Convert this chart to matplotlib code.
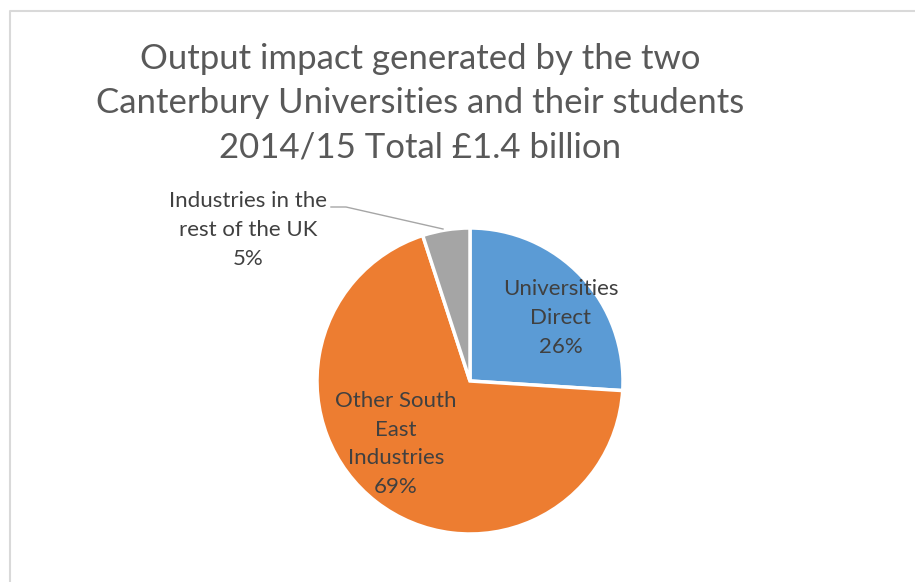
import matplotlib
matplotlib.use("Agg")
import matplotlib.pyplot as plt

# slice data, clockwise from 12 o'clock
categories = ["Universities\nDirect", "Other South\nEast\nIndustries", "Industries in the\nrest of the UK"]
shares = [26, 69, 5]
colors = ["#5b9bd5", "#ed7d31", "#a5a5a5"]

title = "Output impact generated by the two\nCanterbury Universities and their students\n2014/15 Total £1.4 billion"

W, H = 915, 582
plt.rcParams['font.family'] = ['Lato', 'DejaVu Sans']

fig = plt.figure(figsize=(W / 100, H / 100), dpi=100)
ax = fig.add_axes([0, 0, 1, 1])

# chart border (cropped at right and bottom)
ax.plot([9.5, 9.5, W], [0, H - 10.5, H - 10.5], color="#d9d9d9", lw=1.5)

cx, cy, r = 470, H - 381, 153
ax.pie(shares, colors=colors, startangle=90, counterclock=False,
       center=(cx, cy), radius=r, frame=True,
       wedgeprops=dict(edgecolor="white", linewidth=2.5))
ax.set_xlim(0, W)
ax.set_ylim(0, H)
ax.set_aspect('equal')
ax.axis('off')

ax.text(420, H - 103, title, ha='center', va='center', fontsize=25,
        color="#595959", linespacing=1.47)

label_pos = [(561, 318), (396, 444), (248, 230)]
for name, v, (x, y) in zip(categories, shares, label_pos):
    ax.text(x, H - y, f"{name}\n{v}%", ha='center', va='center',
            fontsize=16, color="#404040", linespacing=1.55)

# leader line for the small slice
ax.plot([331, 346, 443], [H - 207, H - 207, H - 229], color="#a6a6a6", lw=1)

fig.savefig("out.png", dpi=100)
